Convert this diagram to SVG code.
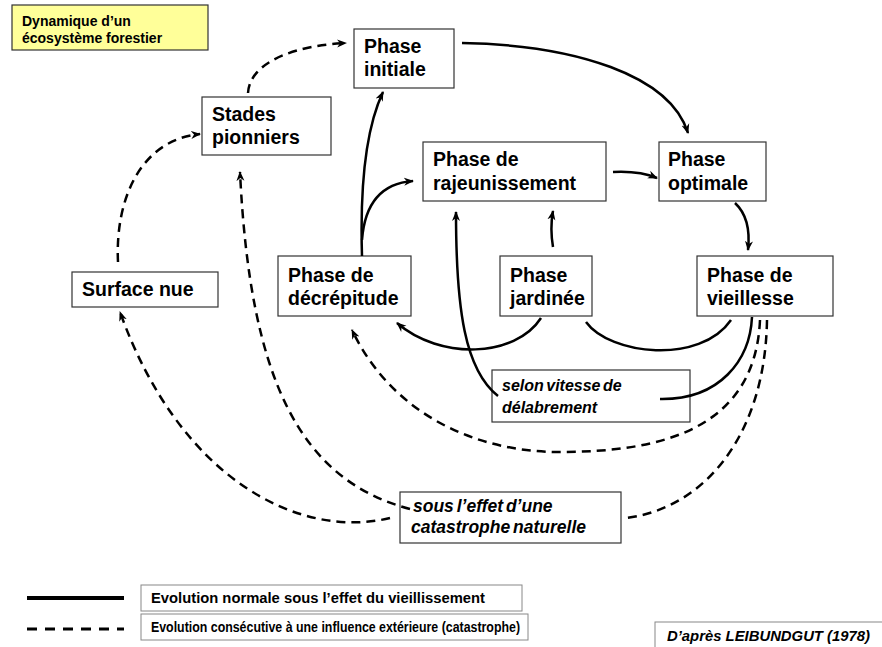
<svg xmlns="http://www.w3.org/2000/svg" width="882" height="647" viewBox="0 0 882 647">
<style>
.box{fill:#fff;stroke:#333;stroke-width:1.2}
.t{font-family:"Liberation Sans",Arial,sans-serif;font-weight:bold;font-size:19.5px;fill:#000}
.it{font-family:"Liberation Sans",Arial,sans-serif;font-weight:bold;font-style:italic;fill:#000;word-spacing:-2px}
.lg{font-family:"Liberation Sans Narrow","Liberation Sans",Arial,sans-serif;font-weight:bold;font-size:14.5px;fill:#000}
.s{fill:none;stroke:#000;stroke-width:2.5}
.d{fill:none;stroke:#000;stroke-width:2.5;stroke-dasharray:9 6}
</style>
<defs>
<marker id="ah" viewBox="0 0 10 10" refX="9" refY="5" markerWidth="10" markerHeight="10" markerUnits="userSpaceOnUse" orient="auto">
<path d="M0,1 L10,5 L0,9 L3,5 z" fill="#000"/>
</marker>
</defs>
<rect width="882" height="647" fill="#fff"/>

<g id="title">
<rect x="12" y="5" width="196" height="45" fill="#ffff99" stroke="#333" stroke-width="1.2"/>
<text x="22" y="26" class="t" style="font-size:14px">Dynamique d’un</text>
<text x="22" y="43" class="t" style="font-size:14px">écosystème forestier</text>
</g>

<g id="phase-initiale">
<rect class="box" x="354" y="29" width="100" height="59"/>
<text class="t" x="364" y="53">Phase</text>
<text class="t" x="364" y="76">initiale</text>
</g>

<g id="stades-pionniers">
<rect class="box" x="202" y="97" width="129" height="58"/>
<text class="t" x="212" y="121">Stades</text>
<text class="t" x="212" y="144">pionniers</text>
</g>

<g id="phase-rajeunissement">
<rect class="box" x="423" y="142" width="183" height="59"/>
<text class="t" x="433" y="166">Phase de</text>
<text class="t" x="433" y="190">rajeunissement</text>
</g>

<g id="phase-optimale">
<rect class="box" x="659" y="142" width="107" height="59"/>
<text class="t" x="668" y="166">Phase</text>
<text class="t" x="668" y="190">optimale</text>
</g>

<g id="surface-nue">
<rect class="box" x="72" y="272" width="146" height="35"/>
<text class="t" x="82" y="296">Surface nue</text>
</g>

<g id="phase-decrepitude">
<rect class="box" x="278" y="256" width="133" height="60"/>
<text class="t" x="288" y="282">Phase de</text>
<text class="t" x="288" y="305">décrépitude</text>
</g>

<g id="phase-jardinee">
<rect class="box" x="500" y="256" width="92" height="60"/>
<text class="t" x="510" y="282">Phase</text>
<text class="t" x="510" y="305">jardinée</text>
</g>

<g id="phase-vieillesse">
<rect class="box" x="697" y="256" width="136" height="60"/>
<text class="t" x="707" y="282">Phase de</text>
<text class="t" x="707" y="305">vieillesse</text>
</g>

<g id="selon-vitesse">
<rect class="box" x="492" y="370" width="198" height="52"/>
<text class="it" x="502" y="391" style="font-size:16px">selon vitesse de</text>
<text class="it" x="502" y="413" style="font-size:16px">délabrement</text>
</g>

<g id="catastrophe">
<rect class="box" x="400" y="492" width="221" height="51"/>
<text class="it" x="413" y="512" style="font-size:17.5px">sous l’effet d’une</text>
<text class="it" x="411" y="533" style="font-size:17.5px">catastrophe naturelle</text>
</g>

<g id="connectors">
<path class="s" d="M462,43 C575,45 670,75 688,133" marker-end="url(#ah)"/>
<path class="s" d="M362,256 C360,190 365,130 383,92" marker-end="url(#ah)"/>
<path class="s" d="M362,240 C365,200 385,183 413,181" marker-end="url(#ah)"/>
<path class="s" d="M613,172 C632,171 645,173 657,178" marker-end="url(#ah)"/>
<path class="s" d="M735,203 C748,215 750,232 748,250" marker-end="url(#ah)"/>
<path class="s" d="M553,247 C551,235 551,222 553,211" marker-end="url(#ah)"/>
<path class="s" d="M498,396 C465,370 456,310 456,212" marker-end="url(#ah)"/>
<path class="s" d="M752,317 C750,360 720,400 660,399"/>
<path class="s" d="M541,318 C515,358 440,360 397,323" marker-end="url(#ah)"/>
<path class="s" d="M586,322 C610,355 700,365 731,320"/>

<path class="d" d="M248,93 C250,60 300,45 346,43" marker-end="url(#ah)"/>
<path class="d" d="M118,262 C115,200 140,140 200,134" marker-end="url(#ah)"/>
<path class="d" d="M410,509 C300,480 250,380 240,172" marker-end="url(#ah)"/>
<path class="d" d="M390,518 C300,540 180,480 120,312" marker-end="url(#ah)"/>
<path class="d" d="M760,320 C755,430 660,452 560,452 C470,452 390,410 352,330" marker-end="url(#ah)"/>
<path class="d" d="M767,320 C765,440 700,510 625,518"/>
</g>

<g id="legend">
<line x1="27" y1="598" x2="124" y2="598" stroke="#000" stroke-width="4"/>
<rect x="141" y="585" width="381" height="26" fill="#fff" stroke="#888" stroke-width="1"/>
<text class="lg" x="151" y="603" textLength="334" lengthAdjust="spacingAndGlyphs">Evolution normale sous l’effet du vieillissement</text>
<line x1="27" y1="629" x2="124" y2="629" stroke="#000" stroke-width="3" stroke-dasharray="10 8"/>
<rect x="141" y="614" width="387" height="26" fill="#fff" stroke="#888" stroke-width="1"/>
<text class="lg" x="151" y="632" textLength="369" lengthAdjust="spacingAndGlyphs">Evolution consécutive à une influence extérieure (catastrophe)</text>
<rect x="655" y="622" width="240" height="30" fill="#fff" stroke="#888" stroke-width="1"/>
<text class="lg" x="667" y="641" style="font-style:italic" textLength="203" lengthAdjust="spacingAndGlyphs">D’après LEIBUNDGUT (1978)</text>
</g>
</svg>
